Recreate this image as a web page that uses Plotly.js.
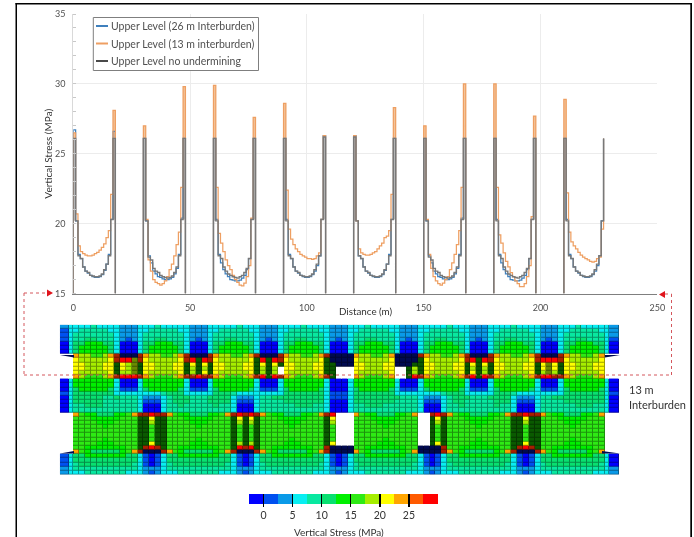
<!DOCTYPE html>
<html>
<head>
<meta charset="utf-8">
<script src="https://cdn.plot.ly/plotly-3.0.1.min.js"></script>
<style>
html,body{margin:0;padding:0;background:#fff;overflow:hidden}
#chart{width:694px;height:537px;filter:blur(0.6px)}
</style>
</head>
<body>
<div id="chart"></div>
<script>
// ---- Line chart data: 1 m steps over each of the eight pillars ----
const distance = [
0,0,1,2,3,4,5,6,7,8,9,10,11,12,13,14,15,16,17,18,null,
30,30,31,32,33,34,35,36,37,38,39,40,41,42,43,44,45,46,47,48,null,
60,60,61,62,63,64,65,66,67,68,69,70,71,72,73,74,75,76,77,78,null,
90,90,91,92,93,94,95,96,97,98,99,100,101,102,103,104,105,106,107,108,null,
120,120,121,122,123,124,125,126,127,128,129,130,131,132,133,134,135,136,137,138,null,
150,150,151,152,153,154,155,156,157,158,159,160,161,162,163,164,165,166,167,168,null,
180,180,181,182,183,184,185,186,187,188,189,190,191,192,193,194,195,196,197,198,null,
210,210,211,212,213,214,215,216,217,218,219,220,221,222,223,224,225,226,227
];
const upper26 = [
15,26.7,20.2,17.8,17.5,16.9,16.6,16.45,16.3,16.2,16.15,16.15,16.2,16.35,16.65,17.1,17.8,20.3,26.6,15,null,
15,26.1,20.2,17.7,17.2,16.6,16.4,16.2,16.15,16.05,16,16,16.05,16.15,16.4,16.8,17.8,20.4,26.1,15,null,
15,26.1,20.3,17.8,17.2,16.7,16.4,16.2,16,15.95,15.9,15.9,15.95,16.1,16.3,16.7,17.5,20.3,26.1,15,null,
15,26.1,20.3,17.8,17.5,16.9,16.6,16.45,16.3,16.2,16.15,16.15,16.2,16.35,16.6,17,17.7,20.3,26.3,15,null,
15,26.3,20.2,17.7,17.5,16.9,16.6,16.45,16.3,16.2,16.15,16.15,16.2,16.35,16.65,17.1,17.8,20.3,26.1,15,null,
15,26.1,20.2,17.7,17.2,16.6,16.4,16.2,16.15,16.05,16,16,16.05,16.15,16.4,16.8,17.8,20.4,26.1,15,null,
15,26.1,20.3,17.8,17.2,16.7,16.4,16.2,16,15.95,15.9,15.9,15.95,16.1,16.3,16.7,17.5,20.3,26.1,15,null,
15,26.1,20.3,17.8,17.5,16.9,16.6,16.45,16.3,16.2,16.15,16.15,16.2,16.35,16.6,17,17.7,20.2,26.1
];
const upper13 = [
15,26.5,20.7,18.4,18,17.85,17.75,17.7,17.7,17.75,17.85,17.95,18.1,18.3,18.55,19,19.5,22.1,28.1,15,null,
15,27,20.3,17.4,16.6,16,15.8,15.7,15.6,15.7,15.9,16.2,16.7,17.1,17.7,18.5,19.4,22.6,29.8,15,null,
15,29.9,22.6,19.3,18.6,18,17.4,17,16.7,16.3,16,15.8,15.6,15.55,15.75,16.2,17,20.4,27.6,15,null,
15,28.6,22.4,19.6,18.9,18.5,18.2,18,17.8,17.7,17.6,17.5,17.5,17.45,17.5,17.7,17.9,20.3,26.3,15,null,
15,26.3,20.2,18.2,17.9,17.8,17.75,17.75,17.8,17.9,18,18.2,18.4,18.6,19,19.1,19.5,22.1,28.3,15,null,
15,27,20.3,17.8,16.8,16.2,15.9,15.7,15.6,15.75,16,16.2,16.7,17.2,17.8,18.5,19.5,22.6,30,15,null,
15,30,22.6,19.2,18.6,17.9,17.3,16.9,16.5,16.2,15.9,15.7,15.5,15.5,15.7,16.2,17,20.5,27.7,15,null,
15,28.9,22.2,19.4,18.7,18.4,18.2,17.95,17.75,17.6,17.5,17.4,17.3,17.25,17.3,17.5,17.6,19.6,26.1
];
const upperNone = [
15,26.1,20.2,17.7,17.5,16.9,16.6,16.5,16.3,16.25,16.2,16.2,16.25,16.4,16.7,17.1,17.7,20.3,26.1,15,null,
15,26.1,20.2,17.6,17.4,16.8,16.6,16.5,16.3,16.2,16.15,16.1,16.15,16.25,16.5,16.9,17.7,20.3,26.1,15,null,
15,26.1,20.2,17.7,17.5,16.9,16.6,16.4,16.3,16.2,16.15,16.1,16.2,16.3,16.5,16.8,17.5,20.3,26.1,15,null,
15,26.1,20.2,17.7,17.5,16.9,16.6,16.5,16.3,16.25,16.2,16.2,16.25,16.4,16.7,17.1,17.7,20.3,26.2,15,null,
15,26.2,20.2,17.7,17.5,16.9,16.6,16.5,16.3,16.25,16.2,16.2,16.25,16.4,16.7,17.1,17.7,20.3,26.1,15,null,
15,26.1,20.2,17.6,17.4,16.8,16.6,16.5,16.3,16.2,16.15,16.1,16.15,16.25,16.5,16.9,17.7,20.3,26.1,15,null,
15,26.1,20.2,17.7,17.5,16.9,16.6,16.4,16.3,16.2,16.15,16.1,16.2,16.3,16.5,16.8,17.5,20.3,26.1,15,null,
15,26.1,20.2,17.7,17.5,16.9,16.6,16.5,16.3,16.25,16.2,16.2,16.25,16.4,16.7,17.1,17.7,20.2,26.1
];
const seriesNames = ["Upper Level (26 m Interburden)","Upper Level (13 m interburden)","Upper Level no undermining"];

// the first and last metre of each pillar read as a solid column: centre distance, bottom and top stress
const ribX = [0.5,0.5,null,17.5,17.5,null,30.5,30.5,null,47.5,47.5,null,60.5,60.5,null,77.5,77.5,null,90.5,90.5,null,107.5,107.5,null,
  120.5,120.5,null,137.5,137.5,null,150.5,150.5,null,167.5,167.5,null,180.5,180.5,null,197.5,197.5,null,210.5,210.5];
const ribNone = [20.2,26.1,null,20.3,26.1,null,20.2,26.1,null,20.3,26.1,null,20.2,26.1,null,20.3,26.1,null,20.2,26.1,null,20.3,26.2,null,
  20.2,26.2,null,20.3,26.1,null,20.2,26.1,null,20.3,26.1,null,20.2,26.1,null,20.3,26.1,null,20.2,26.1];
const rib13 = [26.1,26.5,null,26.1,28.1,null,26.1,27,null,26.1,29.8,null,26.1,29.9,null,26.1,27.6,null,26.1,28.6,null,26.1,26.3,null,
  26.1,26.3,null,26.1,28.3,null,26.1,27,null,26.1,30,null,26.1,30,null,26.1,27.7,null,26.1,28.9];

// ---- Stress mesh: one character per cell, band level from the colour key; '.' = open void ----
const meshRows = [
"23 3334333 32223 3343333 32223 3333433 32223 3334333 32223 3343333 32223 3333433 32223 3334333 32223 3343333 32",
"13 3444443 32223 3444443 32223 3444443 32223 3444443 32223 3444443 32223 3444443 32223 3444443 32223 3444443 32",
"13 4444444 32223 4444444 32223 4444444 32223 4444444 32223 4444444 32223 4444444 32223 4444444 32223 4444444 32",
"13 4455444 32123 4455444 32123 4455444 32123 4455444 32123 4455444 32123 4455444 32123 4455444 32123 4455444 31",
"03 5566655 30003 5566655 30003 5566655 30003 5566655 30003 5566655 30003 5566655 30003 5566655 30003 5566655 30",
"03 5666665 30003 5666665 30003 5666665 30003 5666665 30003 5666665 30003 5666665 30003 5666665 30003 5666665 30",
"03 5666665 30003 5666665 30003 5666665 30003 5666665 30003 5666665 30003 5666665 30003 5666665 30003 5666665 30",
".. a88778a feeef a88778a feeef a88778a feeef a88778a feeee a88778a eeeef a88778a feeef a88778a feeef a88778a ..",
".. 9888889 fccgf 9888889 fcdcf 9888889 dcdcf 9888889 deeee 9888889 eeeed 9888889 fcdcf 9888889 fcccf 9888889 ..",
".. 9988899 d98gd 9988899 d9d9d 9988899 d9d9d 9988899 ddeee 9988899 eeedd 9988899 d9d9d 9988899 d9g9d 9988899 ..",
".. 9988899 d98gd 9988899 d8d8d 9988899 d8d8. 9988899 dd... 9988899 ..d8d 9988899 d8d8d 9988899 d9g9d 9988899 ..",
".. 9888889 d88gd 9888889 d8d9d 9888889 d8d8. 9888889 dd... 9888889 ..d8d 9888889 d9d8d 9888889 d8g8d 9888889 ..",
".. a87778a fcccf a87778a ffcff a87778a fcdcf a87778a fd... a87778a ..dcf a87778a fcdcf a87778a fccff a87778a ..",
"03 6666666 30003 6666666 30003 6666666 30003 6666666 30003 6666666 30003 6666666 30003 6666666 30003 6666666 30",
"03 6666666 30003 6666666 30003 6666666 30003 6666666 30003 6666666 30003 6666666 30003 6666666 30003 6666666 30",
"03 5666665 31113 5666665 31113 5666665 31113 5666665 30003 5666665 31113 5666665 31113 5666665 31113 5666665 30",
"13 5555555 33333 3334555 33333 5554333 33333 5555555 31113 5555555 33333 3334555 33333 5554333 33333 5555555 31",
"03 5555544 54443 2223455 54445 5553222 34455 5555555 31113 5555555 54443 2223455 54445 5553222 34455 5555555 30",
"03 5555544 44443 1113455 54445 5553111 34444 5555555 30003 5555555 44443 1113455 44444 5553111 34444 5555555 30",
"03 4455544 44443 0003445 44444 5443000 34444 4455544 30003 4455544 44443 0003445 44444 5443000 34444 4455544 30",
"03 4444444 44443 0003444 44444 4443000 34444 4444444 30003 4444444 44443 0003444 44444 4443000 34444 4444444 30",
".. a766555667a ffcff a766555667a fcfcf a766555667a fc... a766555667a ..fcf a766555667a ffcff a766555667a ..",
".. 77766666777 dd9dd 77766666777 d9d9d 77766666777 d9... 77766666777 ..d9d 77766666777 dd9dd 77766666777 ..",
".. 77776667777 dd8dd 77776667777 d8d8d 77776667777 d8... 77776667777 ..d8d 77776667777 dd8dd 77776667777 ..",
".. 77777677777 dd7dd 77777677777 d7d7d 77777677777 d7... 77777677777 ..d7d 77777677777 dd7dd 77777677777 ..",
".. 77777777777 dd7dd 77777777777 d7d7d 77777777777 d7... 77777777777 ..d7d 77777777777 dd7dd 77777777777 ..",
".. 77777777777 dd7dd 77777777777 d7d7d 77777777777 d7... 77777777777 ..d7d 77777777777 dd7dd 77777777777 ..",
".. 77777677777 dd7dd 77777677777 d7d7d 77777677777 d7... 77777677777 ..d7d 77777677777 dd7dd 77777677777 ..",
".. 77776667777 dd9dd 77776667777 d8d8d 77776667777 d9... 77776667777 ..d9d 77776667777 dd9dd 77776667777 ..",
".. 77666666677 dfcfd 77666666677 dcfcd 77666666677 feeee 77666666677 eeeef 77666666677 dfcfd 77666666677 ..",
".. a765555567a feeef a765555567a feeef a765555567a feeee a765555567a eeeef a765555567a feeef a765555567a ..",
"13 55666666655 31013 55666666655 31013 55666666655 31013 55666666655 31013 55666666655 31013 55666666655 30",
"13 55555555555 31013 55555555555 31013 55555555555 31013 55555555555 31013 55555555555 31013 55555555555 30",
"13 45555555554 31013 45555555554 31013 45555555554 31013 45555555554 31013 45555555554 31013 45555555554 30",
"23 44444444444 32223 44444444444 32223 44444444444 32223 44444444444 32223 44444444444 32223 44444444444 32",
"23 33444444433 32123 33444444433 32123 33444444433 32123 33444444433 32123 33444444433 32123 33444444433 32"
];
// colour key bands (MPa) and the shades used for the densely meshed backfill
const keyEdges = [-2.5,0,2.5,5,7.5,10,12.5,15,17.5,20,22.5,25,27.5,30];
const keyLevels = [0,1,2,3,4,5,6,7,8,9,10,11,12];
const keyTicks = [0,5,10,15,20,25];
const palette = ["#0000ff","#0050f0","#0a9ae8","#08eef2","#08e8a0","#08e070","#00f000","#2eea14",
                 "#a6ee00","#ffff00","#ffa500","#ff5a00","#ff0000","#0a5a00","#000a50","#a82000","#6a8a00"];

// ---- Layout helpers: pixel positions on the 694x537 page ----
const W=694, H=537;
const fx=x=>x/W, fy=y=>1-y/H;
const X0=73.3, X250=657.3, mScale=(X250-X0)/250, toM=p=>(p-X0)/mScale;

const levelChars="0123456789abcdefg";
const meshZ=meshRows.map(r=>{
  const s=r.replace(/ /g,"");
  if(s.length!==95) throw new Error("bad mesh row length "+s.length+": "+r);
  return s.split("").map(c=>c==="."?null:levelChars.indexOf(c));
});
const colEdges=[-5.7,-1.7];
for(let k=0;k<=91;k++) colEdges.push(k*2.5);
colEdges.push(229.5,233.8);
const rowEdges=[];
for(let r=0;r<=36;r++) rowEdges.push(r);

function discrete(cols){
  const n=cols.length, out=[];
  cols.forEach((c,i)=>{out.push([i/n,c]);out.push([(i+1)/n,c]);});
  return out;
}
function shade(hex,f){
  const n=parseInt(hex.slice(1),16);
  return "rgb("+[(n>>16)&255,(n>>8)&255,n&255].map(v=>Math.round(v*f)).join(",")+")";
}
const zr={zmin:-0.5,zmax:palette.length-0.5};

const lineTrace=(y,name,color,w)=>({type:"scatter",mode:"lines",x:distance,y:y,name:name,
  line:{color:color,width:w,shape:"hv"},connectgaps:false,cliponaxis:false,showlegend:false,hoverinfo:"skip",xaxis:"x",yaxis:"y"});
const ribTrace=(y,name,color)=>({type:"scatter",mode:"lines",x:ribX,y:y,name:name,
  line:{color:color,width:2.6},connectgaps:false,cliponaxis:false,showlegend:false,hoverinfo:"skip",xaxis:"x",yaxis:"y"});

const traces=[
  ribTrace(rib13,seriesNames[1]+" rib","#f3c49a"),
  ribTrace(ribNone,seriesNames[2]+" rib","#b9b9b9"),
  lineTrace(upper26,seriesNames[0],"#3f80bd",1.25),
  lineTrace(upper13,seriesNames[1],"#ee9f62",1.25),
  lineTrace(upperNone,seriesNames[2],"#787878",1.4),
  Object.assign({type:"heatmap",x:colEdges,y:rowEdges,z:meshZ,colorscale:discrete(palette.map(c=>shade(c,0.62))),
    showscale:false,hoverinfo:"skip",xaxis:"x2",yaxis:"y2"},zr),
  Object.assign({type:"heatmap",x:colEdges,y:rowEdges,z:meshZ,colorscale:discrete(palette),xgap:1,ygap:1,
    showscale:false,hoverinfo:"skip",xaxis:"x2",yaxis:"y2"},zr),
  Object.assign({type:"heatmap",x:keyEdges,y:[0,1],z:[keyLevels],colorscale:discrete(palette),
    showscale:false,hoverinfo:"skip",xaxis:"x3",yaxis:"y3"},zr)
];

const box=(x0,y0,x1,y1,o)=>Object.assign({type:"rect",xref:"paper",yref:"paper",x0:fx(x0),x1:fx(x1),y0:fy(y0),y1:fy(y1)},o);
const seg=(x0,y0,x1,y1,o)=>Object.assign({type:"line",xref:"paper",yref:"paper",x0:fx(x0),x1:fx(x1),y0:fy(y0),y1:fy(y1)},o);
const poly=(pts,color)=>({type:"path",xref:"paper",yref:"paper",fillcolor:color,line:{width:0},
  path:"M"+pts.map(p=>fx(p[0])+","+fy(p[1])).join("L")+"Z"});
const dot={line:{color:"#d4565c",width:1,dash:"dot"}};
const legendLine=(y,c)=>seg(96,y,108,y,{line:{color:c,width:2}});

const shapes=[
  // page frame
  box(15.5,3,17,537,{fillcolor:"#000",line:{width:0}}),
  box(15.5,3,692,4.5,{fillcolor:"#000",line:{width:0}}),
  box(690.3,3,692,537,{fillcolor:"#000",line:{width:0}}),
  // dotted link from the chart to the upper level
  seg(24,293,47,293,dot), seg(24,293,24,375,dot), seg(24,375,671.5,375,dot),
  seg(671.5,375,671.5,294,dot), seg(665,294,671.5,294,dot),
  poly([[47,289.5],[53,293],[47,296.5]],"#e0141c"),
  poly([[665,291],[659,294.5],[665,298]],"#e0141c"),
  // roof and floor wedges at the mesh ends
  poly([[60,355],[74,355],[74,357.5]],"#000a50"),
  poly([[60,453.5],[74,453.5],[74,451]],"#000a50"),
  poly([[605,355],[620,355],[605,357.5]],"#000a50"),
  poly([[602,453.5],[620,453.5],[602,451]],"#000a50"),
  // legend
  box(93.3,17.5,258.5,70.5,{fillcolor:"#fff",line:{color:"#7f7f7f",width:1}}),
  legendLine(26,"#3f80bd"), legendLine(43.5,"#ee9f62"), legendLine(61,"#4a4a4a")
];

const note=(text,x,y,size,color,o)=>Object.assign({text:text,xref:"paper",yref:"paper",x:fx(x),y:fy(y),
  xanchor:"left",yanchor:"middle",showarrow:false,font:{size:size,color:color}},o||{});
const annotations=[
  note(seriesNames[0],109,26,10.5,"#505050"),
  note(seriesNames[1],109,43.5,10.5,"#505050"),
  note(seriesNames[2],109,61,10.5,"#505050"),
  note("Distance (m)",365,311,9.8,"#333333",{xanchor:"center"}),
  note("13 m",627,389,11,"#333333"),
  note("Interburden",627,404,11,"#333333"),
  note("Vertical Stress (MPa)",338.5,532,10,"#333333",{xanchor:"center"})
];

const hidden={visible:false,fixedrange:true};
const layout={
  width:W,height:H,margin:{l:0,r:0,t:0,b:0},paper_bgcolor:"#fff",plot_bgcolor:"rgba(0,0,0,0)",
  font:{family:"Lato, 'Open Sans', sans-serif",color:"#505050",size:9},
  showlegend:false,
  xaxis:{domain:[fx(X0),fx(X250)],range:[0,250],tickvals:[0,50,100,150,200,250],ticks:"outside",ticklen:5,tickcolor:"rgba(0,0,0,0)",
    showgrid:true,gridcolor:"#ececec",gridwidth:1,zeroline:false,showline:true,linecolor:"#7f7f7f",linewidth:1.5,
    tickfont:{size:9,color:"#505050"},anchor:"y"},
  yaxis:{domain:[fy(293.5),fy(14)],range:[15,35],tickvals:[15,20,25,30,35],ticks:"outside",ticklen:5,tickcolor:"rgba(0,0,0,0)",
    minor:{ticks:"inside",dtick:1,ticklen:3,tickcolor:"#c8c8c8",showgrid:false},
    showgrid:true,gridcolor:"#ececec",gridwidth:1,zeroline:false,showline:true,linecolor:"#d9d9d9",linewidth:1,
    tickfont:{size:9,color:"#505050"},anchor:"x",
    title:{text:"Vertical Stress (MPa)",font:{size:10,color:"#333333"},standoff:0}},
  xaxis2:Object.assign({domain:[fx(59),fx(622)],range:[toM(59),toM(622)],anchor:"y2"},hidden),
  yaxis2:Object.assign({domain:[fy(474.7),fy(324.7)],range:[36,0],anchor:"x2"},hidden),
  xaxis3:{domain:[fx(249),fx(438)],range:[-2.5,30],anchor:"y3",tickvals:keyTicks,ticks:"inside",ticklen:13,tickwidth:1.4,tickcolor:"#000",
    showgrid:false,zeroline:false,showline:false,tickfont:{size:10.5,color:"#333333"},fixedrange:true},
  yaxis3:Object.assign({domain:[fy(507),fy(494)],range:[-0.3,1],anchor:"x3"},hidden),
  shapes:shapes,annotations:annotations
};
Plotly.newPlot("chart",traces,layout,{displayModeBar:false,staticPlot:true});
</script>
</body>
</html>
